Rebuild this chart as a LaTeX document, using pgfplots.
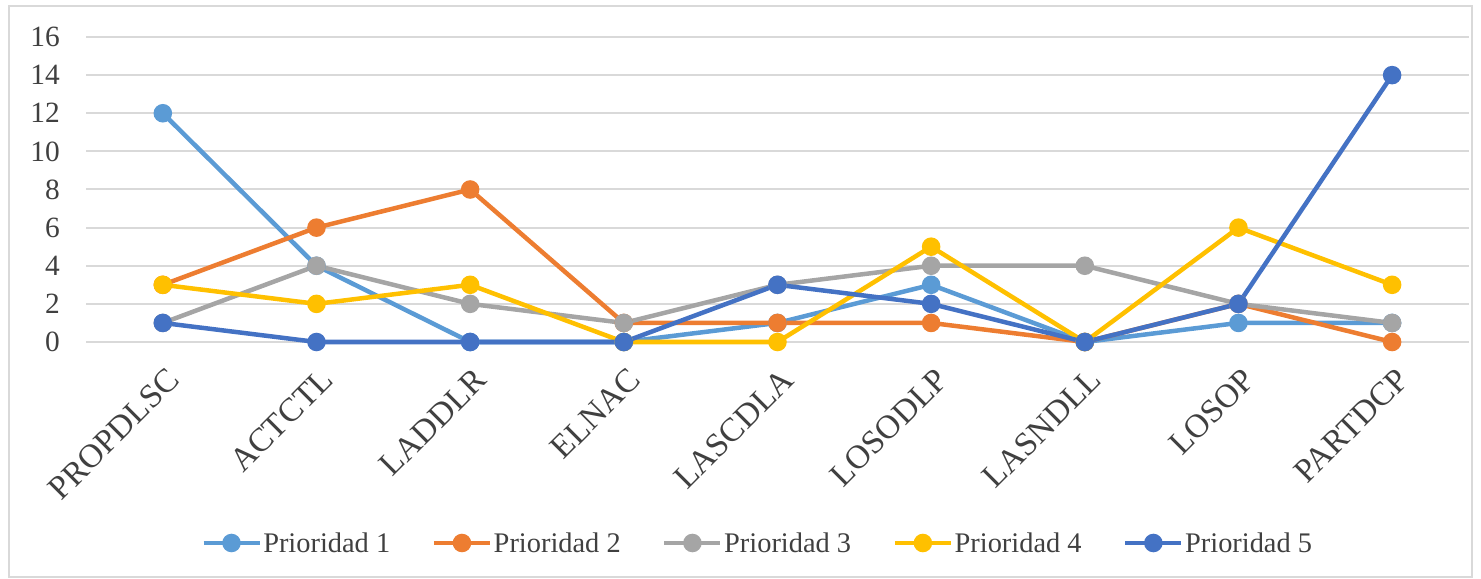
\documentclass[border=0pt]{standalone}
\usepackage{pgfplots}
\pgfplotsset{compat=1.18}
\usepackage{fontspec}
\setmainfont{Liberation Serif}
\definecolor{c1}{HTML}{5B9BD5}
\definecolor{c2}{HTML}{ED7D31}
\definecolor{c3}{HTML}{A5A5A5}
\definecolor{c4}{HTML}{FFC000}
\definecolor{c5}{HTML}{4472C4}
\definecolor{gridc}{HTML}{D9D9D9}
\definecolor{txt}{HTML}{404040}
\begin{document}
\begin{tikzpicture}
\path[use as bounding box] (0bp,0bp) rectangle (1481bp,579bp);
\draw[color=gridc, line width=1.5bp] (9bp,2bp) rectangle (1472bp,573bp);
\begin{axis}[
  at={(86bp,237bp)}, anchor=south west,
  scale only axis, width=1383bp, height=305bp,
  xmin=-0.5, xmax=8.5, ymin=0, ymax=16,
  xtick={0,...,8},
  xticklabels={PROPDLSC,ACTCTL,LADDLR,ELNAC,LASCDLA,LOSODLP,LASNDLL,LOSOP,PARTDCP},
  ytick={0,2,...,16},
  ymajorgrids, grid style={color=gridc, line width=2bp},
  axis line style={draw=none}, major tick length=0pt,
  tick label style={color=txt},
  yticklabel style={font=\fontsize{29.5}{34}\selectfont, anchor=east, inner sep=0pt, xshift=-26bp},
  xticklabel style={font=\fontsize{33.5}{38}\selectfont, rotate=45, anchor=north east, inner sep=0pt, xshift=4bp},
  xticklabel shift=27bp,
  /pgf/number format/assume math mode=true,
  clip=false,
  every axis plot/.append style={line width=4.5bp, mark=*, mark size=7bp},
  legend columns=5,
  legend style={at={(0.4855,-0.659)}, anchor=center, draw=none, fill=none,
    font=\fontsize{28.5}{33}\selectfont, text=txt,
    nodes={inner sep=1.5bp},
    /tikz/every even column/.append style={column sep=40bp}},
  legend image code/.code={\draw[mark repeat=2,mark phase=2,#1] plot coordinates {(0bp,0bp)(28bp,0bp)(56bp,0bp)};},
]
\addplot[color=c1, mark options={fill=c1, draw=c1}] coordinates {(0,12)(1,4)(2,0)(3,0)(4,1)(5,3)(6,0)(7,1)(8,1)};
\addlegendentry{Prioridad 1}
\addplot[color=c2, mark options={fill=c2, draw=c2}] coordinates {(0,3)(1,6)(2,8)(3,1)(4,1)(5,1)(6,0)(7,2)(8,0)};
\addlegendentry{Prioridad 2}
\addplot[color=c3, mark options={fill=c3, draw=c3}] coordinates {(0,1)(1,4)(2,2)(3,1)(4,3)(5,4)(6,4)(7,2)(8,1)};
\addlegendentry{Prioridad 3}
\addplot[color=c4, mark options={fill=c4, draw=c4}] coordinates {(0,3)(1,2)(2,3)(3,0)(4,0)(5,5)(6,0)(7,6)(8,3)};
\addlegendentry{Prioridad 4}
\addplot[color=c5, mark options={fill=c5, draw=c5}] coordinates {(0,1)(1,0)(2,0)(3,0)(4,3)(5,2)(6,0)(7,2)(8,14)};
\addlegendentry{Prioridad 5}
\end{axis}
\end{tikzpicture}
\end{document}
